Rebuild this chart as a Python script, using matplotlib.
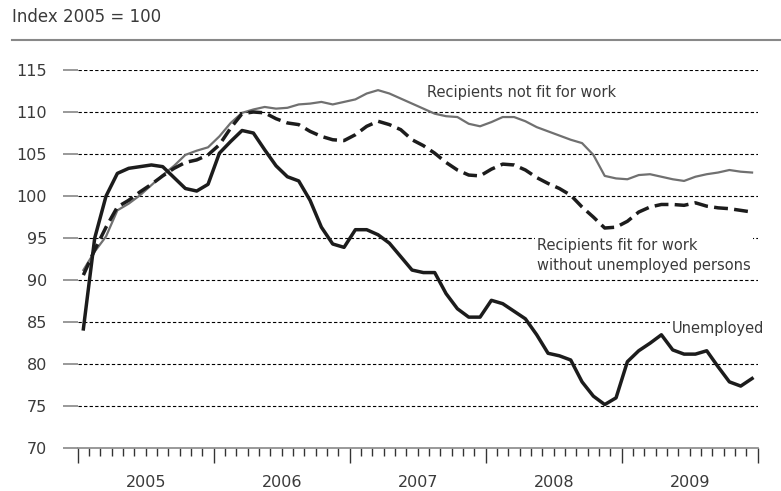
"""Social assistance recipients vs. unemployed, monthly index 2005 = 100."""

import matplotlib

matplotlib.use("Agg")
import matplotlib.pyplot as plt
import numpy as np

YEARS = ["2005", "2006", "2007", "2008", "2009"]

# monthly values, Jan 2005 .. Dec 2009
unemployed = [
    84.2, 95.0, 100.0, 102.7, 103.3, 103.5, 103.7, 103.5, 102.2, 100.9, 100.6, 101.4,
    105.1, 106.5, 107.8, 107.5, 105.5, 103.6, 102.3, 101.8, 99.5, 96.3, 94.3, 93.9,
    96.0, 96.0, 95.4, 94.4, 92.8, 91.2, 90.9, 90.9, 88.4, 86.6, 85.6, 85.6,
    87.6, 87.2, 86.3, 85.4, 83.5, 81.3, 81.0, 80.5, 77.9, 76.2, 75.2, 76.0,
    80.3, 81.6, 82.5, 83.5, 81.7, 81.2, 81.2, 81.6, 79.7, 77.9, 77.4, 78.3,
]
not_fit = [
    91.2, 93.4, 95.2, 98.3, 99.1, 100.1, 101.3, 102.5, 103.6, 104.9, 105.4, 105.8,
    107.1, 108.7, 109.9, 110.3, 110.6, 110.4, 110.5, 110.9, 111.0, 111.2, 110.9, 111.2,
    111.5, 112.2, 112.6, 112.2, 111.6, 111.0, 110.4, 109.8, 109.5, 109.4, 108.6, 108.3,
    108.8, 109.4, 109.4, 108.9, 108.2, 107.7, 107.2, 106.7, 106.3, 104.9, 102.4, 102.1,
    102.0, 102.5, 102.6, 102.3, 102.0, 101.8, 102.3, 102.6, 102.8, 103.1, 102.9, 102.8,
]
fit_no_unemp = [
    90.6, 93.6, 96.3, 98.7, 99.5, 100.5, 101.4, 102.4, 103.3, 104.0, 104.3, 104.9,
    106.1, 108.1, 109.8, 110.0, 109.9, 109.2, 108.7, 108.5, 107.7, 107.1, 106.7, 106.6,
    107.3, 108.3, 108.9, 108.5, 107.9, 106.7, 106.0, 105.1, 104.0, 103.1, 102.5, 102.4,
    103.2, 103.8, 103.7, 103.1, 102.2, 101.5, 100.9, 100.1, 98.7, 97.5, 96.2, 96.3,
    97.0, 98.1, 98.7, 99.0, 99.0, 98.9, 99.2, 98.8, 98.6, 98.5, 98.3, 98.1,
]

DARK, GREY, TEXT = "#1c1c1c", "#707070", "#3a3a3a"

fig = plt.figure(figsize=(7.81, 4.91), dpi=100)
ax = fig.add_axes([0.0995, 0.087, 0.8707, 0.7705])

x = np.arange(len(unemployed)) + 0.5
ax.plot(x, not_fit, color=GREY, lw=1.6, zorder=3)
ax.plot(x, fit_no_unemp, color=DARK, lw=2.5, dashes=(4, 1.8), zorder=4)
ax.plot(x, unemployed, color=DARK, lw=2.5, zorder=5)

ax.set_xlim(0, 60)
ax.set_ylim(70, 115)
ax.set_yticks(range(70, 116, 5))
for v in range(75, 116, 5):
    ax.axhline(v, color="black", lw=0.8, dashes=(3, 2), zorder=1)

# one tick per month, the year boundaries drawn longer
ax.set_xticks(range(61))
ax.set_xticklabels([])
ax.tick_params(axis="x", direction="out", length=5.5, width=1.0, color="#333333")
for m, t in enumerate(ax.xaxis.get_major_ticks()):
    if m % 12 == 0:
        t.tick1line.set_markersize(11)
ax.tick_params(axis="y", length=11, width=1.2, color="#888888", pad=11,
               labelsize=11.5, labelcolor=TEXT)

for s in ("top", "right", "left"):
    ax.spines[s].set_visible(False)
ax.spines["bottom"].set_color("#888888")
ax.spines["bottom"].set_linewidth(1.2)

for i, yr in enumerate(YEARS):
    ax.text(i * 12 + 6, -0.09, yr, transform=ax.get_xaxis_transform(),
            ha="center", va="center", fontsize=11.5, color=TEXT)

box = dict(facecolor="white", edgecolor="none", pad=1.5)
ax.text(30.8, 112.3, "Recipients not fit for work", fontsize=10.5, color=TEXT,
        ha="left", va="center", zorder=2)
ax.text(40.5, 92.9, "Recipients fit for work\nwithout unemployed persons",
        fontsize=10.5, color=TEXT, ha="left", va="center", linespacing=1.45,
        bbox=box, zorder=2)
ax.text(60.6, 84.3, "Unemployed", fontsize=10.5, color=TEXT, ha="right", va="center",
        clip_on=False, bbox=box, zorder=2)

fig.text(12 / 781, 1 - 17 / 491, "Index 2005 = 100", fontsize=12, color=TEXT,
         ha="left", va="center")
fig.add_artist(plt.Line2D([12 / 781, 1], [1 - 40 / 491] * 2, color="#888888", lw=1.5))

fig.savefig("out.png", dpi=100)
